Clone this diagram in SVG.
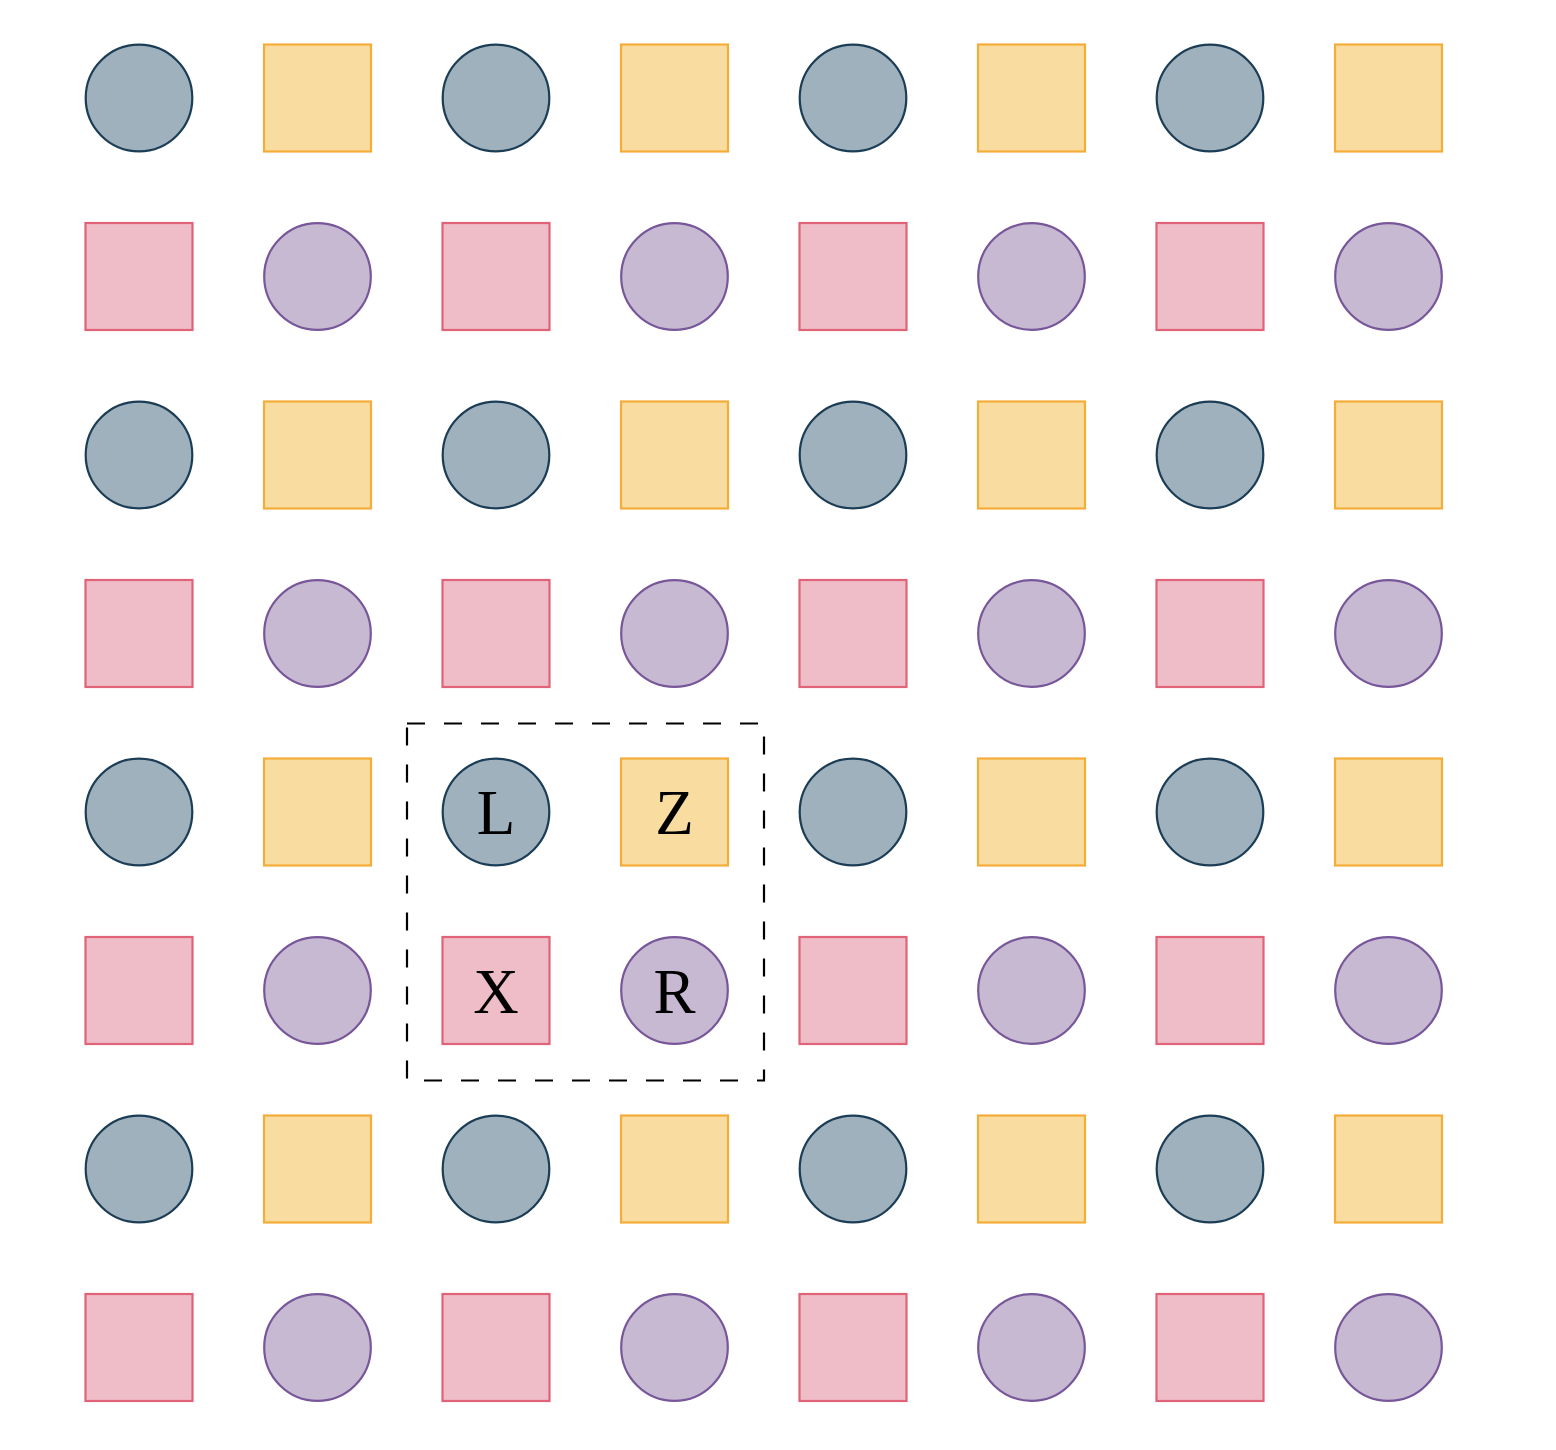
<svg xmlns="http://www.w3.org/2000/svg" width="1556" height="1450" viewBox="0 0 1556 1450">
<style>
.c1{fill:#9fb1bc;stroke:#1b3d56;stroke-width:2.2}
.s1{fill:#f8dca0;stroke:#f5ad3a;stroke-width:2.2}
.s2{fill:#efbdc8;stroke:#e06379;stroke-width:2.2}
.c2{fill:#c8b9d3;stroke:#77579a;stroke-width:2.2}
.t{font-family:"Liberation Serif","DejaVu Serif",serif;font-size:63px;fill:#000;text-anchor:middle}
.box{fill:none;stroke:#000;stroke-width:2.2;stroke-dasharray:18 19}
</style>
<rect width="1556" height="1450" fill="#fff"/>
<g id="nodes">
<g id="r0">
<circle class="c1" cx="139" cy="98" r="53.3"/><rect class="s1" x="264" y="44.5" width="107" height="107"/>
<circle class="c1" cx="496" cy="98" r="53.3"/><rect class="s1" x="621" y="44.5" width="107" height="107"/>
<circle class="c1" cx="853" cy="98" r="53.3"/><rect class="s1" x="978" y="44.5" width="107" height="107"/>
<circle class="c1" cx="1210" cy="98" r="53.3"/><rect class="s1" x="1335" y="44.5" width="107" height="107"/>
</g>
<g id="r1">
<rect class="s2" x="85.5" y="223" width="107" height="107"/><circle class="c2" cx="317.5" cy="276.5" r="53.3"/>
<rect class="s2" x="442.5" y="223" width="107" height="107"/><circle class="c2" cx="674.5" cy="276.5" r="53.3"/>
<rect class="s2" x="799.5" y="223" width="107" height="107"/><circle class="c2" cx="1031.5" cy="276.5" r="53.3"/>
<rect class="s2" x="1156.5" y="223" width="107" height="107"/><circle class="c2" cx="1388.5" cy="276.5" r="53.3"/>
</g>
<g id="r2">
<circle class="c1" cx="139" cy="455" r="53.3"/><rect class="s1" x="264" y="401.5" width="107" height="107"/>
<circle class="c1" cx="496" cy="455" r="53.3"/><rect class="s1" x="621" y="401.5" width="107" height="107"/>
<circle class="c1" cx="853" cy="455" r="53.3"/><rect class="s1" x="978" y="401.5" width="107" height="107"/>
<circle class="c1" cx="1210" cy="455" r="53.3"/><rect class="s1" x="1335" y="401.5" width="107" height="107"/>
</g>
<g id="r3">
<rect class="s2" x="85.5" y="580" width="107" height="107"/><circle class="c2" cx="317.5" cy="633.5" r="53.3"/>
<rect class="s2" x="442.5" y="580" width="107" height="107"/><circle class="c2" cx="674.5" cy="633.5" r="53.3"/>
<rect class="s2" x="799.5" y="580" width="107" height="107"/><circle class="c2" cx="1031.5" cy="633.5" r="53.3"/>
<rect class="s2" x="1156.5" y="580" width="107" height="107"/><circle class="c2" cx="1388.5" cy="633.5" r="53.3"/>
</g>
<g id="r4">
<circle class="c1" cx="139" cy="812" r="53.3"/><rect class="s1" x="264" y="758.5" width="107" height="107"/>
<g id="L"><circle class="c1" cx="496" cy="812" r="53.3"/><text class="t" x="496" y="834">L</text></g>
<g id="Z"><rect class="s1" x="621" y="758.5" width="107" height="107"/><text class="t" x="674.5" y="834">Z</text></g>
<circle class="c1" cx="853" cy="812" r="53.3"/><rect class="s1" x="978" y="758.5" width="107" height="107"/>
<circle class="c1" cx="1210" cy="812" r="53.3"/><rect class="s1" x="1335" y="758.5" width="107" height="107"/>
</g>
<g id="r5">
<rect class="s2" x="85.5" y="937" width="107" height="107"/><circle class="c2" cx="317.5" cy="990.5" r="53.3"/>
<g id="X"><rect class="s2" x="442.5" y="937" width="107" height="107"/><text class="t" x="496" y="1012.5">X</text></g>
<g id="R"><circle class="c2" cx="674.5" cy="990.5" r="53.3"/><text class="t" x="674.5" y="1012.5">R</text></g>
<rect class="s2" x="799.5" y="937" width="107" height="107"/><circle class="c2" cx="1031.5" cy="990.5" r="53.3"/>
<rect class="s2" x="1156.5" y="937" width="107" height="107"/><circle class="c2" cx="1388.5" cy="990.5" r="53.3"/>
</g>
<g id="r6">
<circle class="c1" cx="139" cy="1169" r="53.3"/><rect class="s1" x="264" y="1115.5" width="107" height="107"/>
<circle class="c1" cx="496" cy="1169" r="53.3"/><rect class="s1" x="621" y="1115.5" width="107" height="107"/>
<circle class="c1" cx="853" cy="1169" r="53.3"/><rect class="s1" x="978" y="1115.5" width="107" height="107"/>
<circle class="c1" cx="1210" cy="1169" r="53.3"/><rect class="s1" x="1335" y="1115.5" width="107" height="107"/>
</g>
<g id="r7">
<rect class="s2" x="85.5" y="1294" width="107" height="107"/><circle class="c2" cx="317.5" cy="1347.5" r="53.3"/>
<rect class="s2" x="442.5" y="1294" width="107" height="107"/><circle class="c2" cx="674.5" cy="1347.5" r="53.3"/>
<rect class="s2" x="799.5" y="1294" width="107" height="107"/><circle class="c2" cx="1031.5" cy="1347.5" r="53.3"/>
<rect class="s2" x="1156.5" y="1294" width="107" height="107"/><circle class="c2" cx="1388.5" cy="1347.5" r="53.3"/>
</g>
</g>
<g id="connectors">
<rect id="highlight" class="box" x="407" y="723.5" width="357" height="357"/>
</g>
</svg>
